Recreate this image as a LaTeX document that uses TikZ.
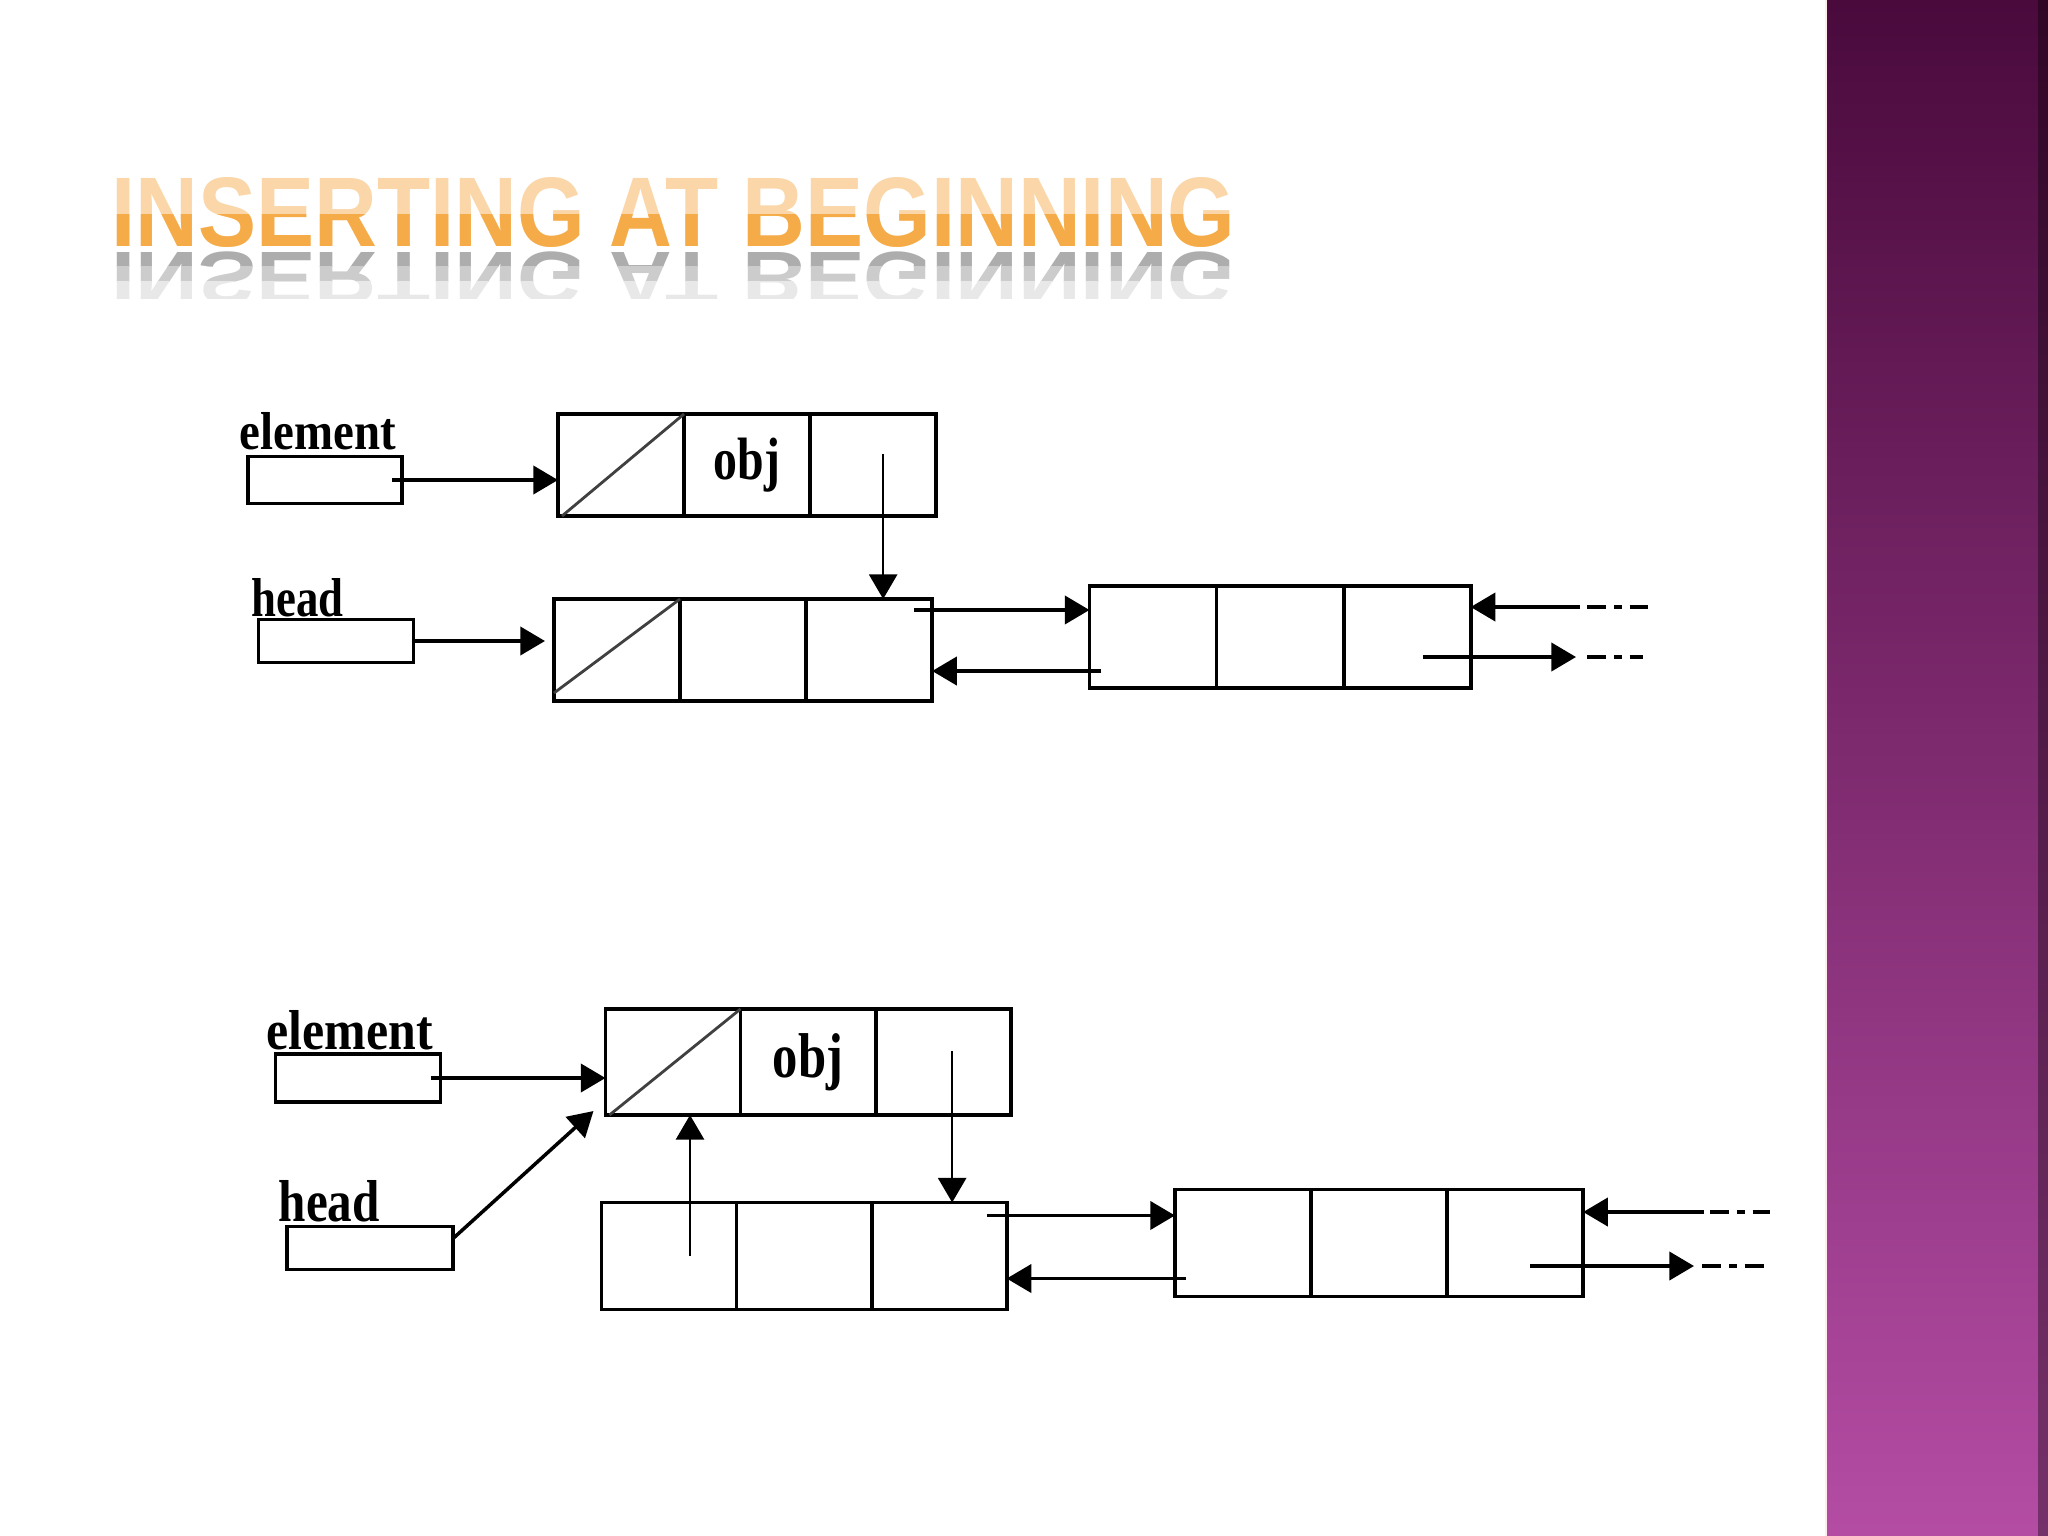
\documentclass[tikz,border=0pt]{standalone}
\usepackage{fontspec}
\setmainfont{Liberation Serif}
\newfontfamily\titlefont{Liberation Sans}
\usetikzlibrary{positioning,arrows.meta}

\definecolor{barTop}{RGB}{74,10,60}
\definecolor{barMid}{RGB}{135,50,115}
\definecolor{barBot}{RGB}{180,76,164}
\definecolor{titleLight}{RGB}{250,214,168}
\definecolor{titleDark}{RGB}{245,172,72}

\newcommand\slidetitle{\resizebox{11.23cm}{0.69cm}{\titlefont\bfseries INSERTING AT BEGINNING}}
\newcommand\tallword[3]{\resizebox{#1}{#2}{\bfseries #3}}
\newcommand\objtext[1]{\scalebox{0.8}[1]{\fontsize{#1}{#1}\selectfont\bfseries obj}}

\tikzset{
  cell/.style={draw, line width=1.1pt, inner sep=0pt, outer sep=0pt,
    minimum width=1.26cm, minimum height=1.02cm},
  bigcell/.style={cell, minimum width=1.35cm, minimum height=1.06cm},
  ptrbox/.style={draw, line width=1.1pt, inner sep=0pt, outer sep=0pt},
  lbl/.style={inner sep=0pt, anchor=base west},
  ptr/.style={line width=1pt, -{Triangle[length=7pt,width=8pt]}},
  thinptr/.style={ptr, line width=0.7pt},
  more/.style={line width=1pt, dash pattern=on 5.5pt off 2.2pt on 2.2pt off 2.2pt},
  slash/.style={line width=0.8pt, black!75}
}

\begin{document}
\begin{tikzpicture}[x=0.01cm, y=-0.01cm]
  \useasboundingbox (0,0) rectangle (2048,1536);
  \fill[white] (0,0) rectangle (2048,1536);

  % side bar
  \shade[top color=barTop, middle color=barMid, bottom color=barBot] (1826,0) rectangle (2048,1536);
  \fill[black, opacity=0.35] (2038,0) rectangle (2048,1536);
  \draw[white!70!pink, line width=0.8pt] (1826,0) -- (1826,1536);

  % title with reflection
  \node[inner sep=0pt, anchor=south west, text=titleLight] (title) at (111,248) {\slidetitle};
  \begin{scope}
    \clip (100,214) rectangle (1300,250);
    \node[inner sep=0pt, anchor=south west, text=titleDark] at (111,248) {\slidetitle};
  \end{scope}
  \foreach \ya/\yb/\shade in {251/266/32, 266/281/20, 281/298/9} {
    \begin{scope}
      \clip (100,\ya) rectangle (1300,\yb);
      \node[inner sep=0pt, anchor=north west, text=black!\shade] at (111,251) {\scalebox{1}[-0.75]{\slidetitle}};
    \end{scope}
  }

  % ---- before: element and head ----
  \node[ptrbox, minimum width=1.54cm, minimum height=0.47cm] (elem1) at (325,480) {};
  \node[lbl] (elem1lbl) at (239,449) {\tallword{1.56cm}{0.37cm}{element}};
  \node[ptrbox, minimum width=1.55cm, minimum height=0.43cm] (head1) at (336,641) {};
  \node[lbl] (head1lbl) at (251,616) {\tallword{0.92cm}{0.38cm}{head}};

  \node[cell] (new1a) at (621,465) {};
  \node[cell, right=0pt of new1a] (new1b) {\objtext{17pt}\hspace{0.12cm}};
  \node[cell, right=0pt of new1b] (new1c) {};
  \draw[slash] ([xshift=0.04cm]new1a.south west) -- (new1a.north east);

  \node[cell] (old1a) at (617,650) {};
  \node[cell, right=0pt of old1a] (old1b) {};
  \node[cell, right=0pt of old1b] (old1c) {};
  \draw[slash] ([yshift=0.08cm]old1a.south west) -- (old1a.north east);

  \node[cell, minimum width=1.27cm] (nxt1a) at (1153,637) {};
  \node[cell, minimum width=1.27cm, right=0pt of nxt1a] (nxt1b) {};
  \node[cell, minimum width=1.27cm, right=0pt of nxt1b] (nxt1c) {};

  \draw[ptr] ([xshift=-0.1cm]elem1.east) -- (elem1.east -| new1a.west);
  \draw[thinptr] ([xshift=0.1cm, yshift=0.11cm]new1c.center) -- ([xshift=0.1cm]new1c.center |- old1c.north);
  \draw[ptr] (head1.east) -- ([xshift=-0.09cm]head1.east -| old1a.west);
  \draw[ptr] ([xshift=-0.18cm, yshift=-0.11cm]old1c.north east) -- ([yshift=-0.11cm]old1c.north east -| nxt1a.west);
  \draw[ptr] ([xshift=0.12cm, yshift=0.3cm]old1c.south east -| nxt1a.west) -- ([yshift=0.3cm]old1c.south east);

  \coordinate (in1) at (1580,607);
  \coordinate (in1end) at (1648,607);
  \coordinate (out1) at (1576,657);
  \coordinate (out1end) at (1643,657);
  \draw[ptr] (in1) -- (in1 -| nxt1c.east);
  \draw[more] ([xshift=0.07cm]in1) -- (in1end);
  \draw[ptr] ([xshift=-0.48cm]nxt1c.east |- out1) -- (out1);
  \draw[more] ([xshift=0.11cm]out1) -- (out1end);

  % ---- after: element and head ----
  \node[ptrbox, minimum width=1.65cm, minimum height=0.48cm] (elem2) at (358,1078) {};
  \node[lbl] (elem2lbl) at (266,1049) {\tallword{1.66cm}{0.39cm}{element}};
  \node[ptrbox, minimum width=1.66cm, minimum height=0.43cm] (head2) at (370,1248) {};
  \node[lbl] (head2lbl) at (278,1221) {\tallword{1.01cm}{0.41cm}{head}};

  \node[bigcell] (new2a) at (673,1062) {};
  \node[bigcell, right=0pt of new2a] (new2b) {\objtext{18pt}\hspace{0.14cm}};
  \node[bigcell, right=0pt of new2b] (new2c) {};
  \draw[slash] ([xshift=0.04cm]new2a.south west) -- (new2a.north east);

  \node[bigcell, minimum height=1.07cm] (old2a) at (669,1256) {};
  \node[bigcell, minimum height=1.07cm, right=0pt of old2a] (old2b) {};
  \node[bigcell, minimum height=1.07cm, right=0pt of old2b] (old2c) {};

  \node[bigcell, minimum width=1.36cm, minimum height=1.07cm] (nxt2a) at (1243,1243) {};
  \node[bigcell, minimum width=1.36cm, minimum height=1.07cm, right=0pt of nxt2a] (nxt2b) {};
  \node[bigcell, minimum width=1.36cm, minimum height=1.07cm, right=0pt of nxt2b] (nxt2c) {};

  \draw[ptr] ([xshift=-0.1cm]elem2.east) -- (elem2.east -| new2a.west);
  \draw[ptr] ([yshift=-0.12cm]head2.north east) -- ([xshift=-0.12cm, yshift=0.04cm]new2a.south west);
  \draw[thinptr] ([xshift=0.21cm]old2a.center) -- ([xshift=0.21cm]old2a.center |- new2a.south);
  \draw[thinptr] ([xshift=0.09cm, yshift=0.11cm]new2c.center) -- ([xshift=0.09cm]new2c.center |- old2c.north);
  \draw[ptr] ([xshift=-0.2cm, yshift=-0.13cm]old2c.north east) -- ([yshift=-0.13cm]old2c.north east -| nxt2a.west);
  \draw[ptr] ([xshift=0.11cm, yshift=0.31cm]old2c.south east -| nxt2a.west) -- ([yshift=0.31cm]old2c.south east);

  \coordinate (in2) at (1704,1212);
  \coordinate (in2end) at (1770,1212);
  \coordinate (out2) at (1694,1266);
  \coordinate (out2end) at (1767,1266);
  \draw[ptr] (in2) -- (in2 -| nxt2c.east);
  \draw[more] ([xshift=0.06cm]in2) -- (in2end);
  \draw[ptr] ([xshift=-0.53cm]nxt2c.east |- out2) -- (out2);
  \draw[more] ([xshift=0.08cm]out2) -- (out2end);
\end{tikzpicture}
\end{document}
